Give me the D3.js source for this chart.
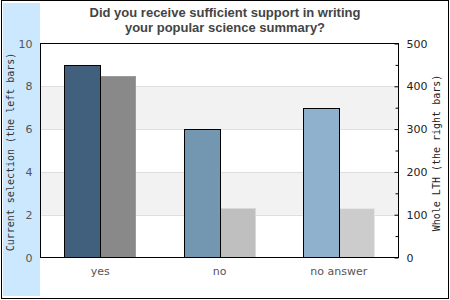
<!DOCTYPE html>
<html>
<head>
<meta charset="utf-8">
<script src="https://cdn.jsdelivr.net/npm/d3@7"></script>
<style>
  body { margin: 0; background: #fff; }
  svg { display: block; }
</style>
</head>
<body>
<div id="chart"></div>
<script>
// values
const categories = ["yes", "no", "no answer"];
const currentSelection = [9, 6, 7];
const wholeLTH = [425, 115, 115];
const leftTicks = [0, 2, 4, 6, 8, 10];
const rightTicks = [0, 100, 200, 300, 400, 500];
const rightMinorTicks = [50, 150, 250, 350, 450];
const titleLines = ["Did you receive sufficient support in writing", "your popular science summary?"];
const leftTitle = "Current selection (the left bars)";
const rightTitle = "Whole LTH (the right bars)";

const width = 450;
const height = 300;
const plot = { left: 40.5, right: 398.5, top: 43.5, bottom: 257.5 };

const leftColors = ["#41607e", "#7396b1", "#8fb1cd"];
const rightColors = ["#898989", "#bfbfbf", "#cccccc"];

const svg = d3
  .select("#chart")
  .append("svg")
  .attr("width", width)
  .attr("height", height);

// outer frame and the blue strip on the left
svg.append("rect")
  .attr("x", 1.5).attr("y", 0.5)
  .attr("width", 447).attr("height", 298)
  .attr("fill", "#fff")
  .attr("stroke", "#000");

svg.append("rect")
  .attr("x", 3).attr("y", 3)
  .attr("width", 37).attr("height", 293)
  .attr("fill", "#cce8ff");

var x = d3.scaleBand()
  .domain(categories)
  .range([plot.left, plot.right])
  .paddingInner(0.4)
  .paddingOuter(0.2);

var x1 = d3.scaleBand()
  .domain([0, 1])
  .range([0, x.bandwidth()]);

var yLeft = d3.scaleLinear().domain([0, 10]).range([plot.bottom, plot.top]);
var yRight = d3.scaleLinear().domain([0, 500]).range([plot.bottom, plot.top]);

// plot background with alternating bands
svg.append("rect")
  .attr("x", plot.left).attr("y", plot.top)
  .attr("width", plot.right - plot.left).attr("height", plot.bottom - plot.top)
  .attr("fill", "#fff");

svg.selectAll(".band")
  .data([[8, 6], [4, 2]])
  .enter()
  .append("rect")
  .classed("band", true)
  .attr("x", plot.left)
  .attr("y", d => yLeft(d[0]))
  .attr("width", plot.right - plot.left)
  .attr("height", d => yLeft(d[1]) - yLeft(d[0]))
  .attr("fill", "#f2f2f2");

svg.selectAll(".grid")
  .data(leftTicks.slice(1, -1))
  .enter()
  .append("line")
  .classed("grid", true)
  .attr("x1", plot.left).attr("x2", plot.right)
  .attr("y1", d => Math.round(yLeft(d)) + 0.5)
  .attr("y2", d => Math.round(yLeft(d)) + 0.5)
  .attr("stroke", "#dedede");

// bars: left = current selection, right = whole LTH
var groups = svg.selectAll(".cat")
  .data(categories)
  .enter()
  .append("g")
  .classed("cat", true);

groups.append("rect")
  .attr("x", (d, i) => Math.round(x(d) + x1(0)) + 0.5)
  .attr("y", (d, i) => Math.round(yLeft(currentSelection[i])) + 0.5)
  .attr("width", Math.round(x1.bandwidth()))
  .attr("height", (d, i) => plot.bottom - Math.round(yLeft(currentSelection[i])) - 0.5)
  .attr("fill", (d, i) => leftColors[i])
  .attr("stroke", "#000");

groups.insert("rect", ":first-child")
  .attr("x", (d, i) => Math.round(x(d) + x1(1)) + 0.5)
  .attr("y", (d, i) => Math.round(yRight(wholeLTH[i])) + 0.5)
  .attr("width", Math.round(x1.bandwidth()) - 1)
  .attr("height", (d, i) => plot.bottom - Math.round(yRight(wholeLTH[i])) - 0.5)
  .attr("fill", (d, i) => rightColors[i])
  .attr("stroke", (d, i) => d3.color(rightColors[i]).brighter(0.35));

// plot frame
svg.append("rect")
  .attr("x", plot.left).attr("y", plot.top)
  .attr("width", plot.right - plot.left).attr("height", plot.bottom - plot.top)
  .attr("fill", "none")
  .attr("stroke", "#000");

// axes
var leftAxis = svg.append("g")
  .attr("transform", `translate(${plot.left},0)`)
  .call(d3.axisLeft(yLeft).tickValues(leftTicks).tickSize(0).tickPadding(8).tickFormat(d3.format("d")));

var rightAxis = svg.append("g")
  .attr("transform", `translate(${plot.right},0)`)
  .call(d3.axisRight(yRight).tickValues(rightTicks).tickSizeInner(-4).tickSizeOuter(0).tickPadding(8));

svg.append("g")
  .attr("transform", `translate(${plot.right},0)`)
  .call(d3.axisRight(yRight).tickValues(rightMinorTicks).tickSizeInner(-3).tickSizeOuter(0).tickFormat(""))
  .call(g => g.select(".domain").remove());

var bottomAxis = svg.append("g")
  .attr("transform", `translate(0,${plot.bottom})`)
  .call(d3.axisBottom(x).tickSize(0).tickPadding(10));

[leftAxis, rightAxis, bottomAxis].forEach(g => {
  g.select(".domain").remove();
  g.attr("font-family", "DejaVu Sans").attr("font-size", 11);
});
leftAxis.selectAll("text").attr("fill", "#555");
rightAxis.selectAll("text").attr("fill", "#222");
rightAxis.selectAll("line").attr("stroke", "#000");
bottomAxis.selectAll("text").attr("fill", "#555");

// titles
svg.append("text")
  .attr("x", width / 2)
  .attr("y", 17)
  .attr("font-family", "Liberation Sans")
  .attr("font-weight", "bold")
  .attr("font-size", 13)
  .style("text-anchor", "middle")
  .style("fill", "#444")
  .selectAll("tspan")
  .data(titleLines)
  .enter()
  .append("tspan")
  .attr("x", width / 2)
  .attr("dy", (d, i) => (i === 0 ? 0 : 15))
  .text(d => d);

svg.append("text")
  .attr("transform", "translate(10,152) rotate(-90)")
  .attr("dy", "0.35em")
  .attr("font-family", "DejaVu Sans Mono")
  .attr("font-size", 10)
  .style("text-anchor", "middle")
  .style("fill", "#333")
  .text(leftTitle);

svg.append("text")
  .attr("transform", "translate(436,153) rotate(-90)")
  .attr("dy", "0.35em")
  .attr("font-family", "DejaVu Sans Mono")
  .attr("font-size", 10)
  .style("text-anchor", "middle")
  .style("fill", "#222")
  .text(rightTitle);
</script>
</body>
</html>
